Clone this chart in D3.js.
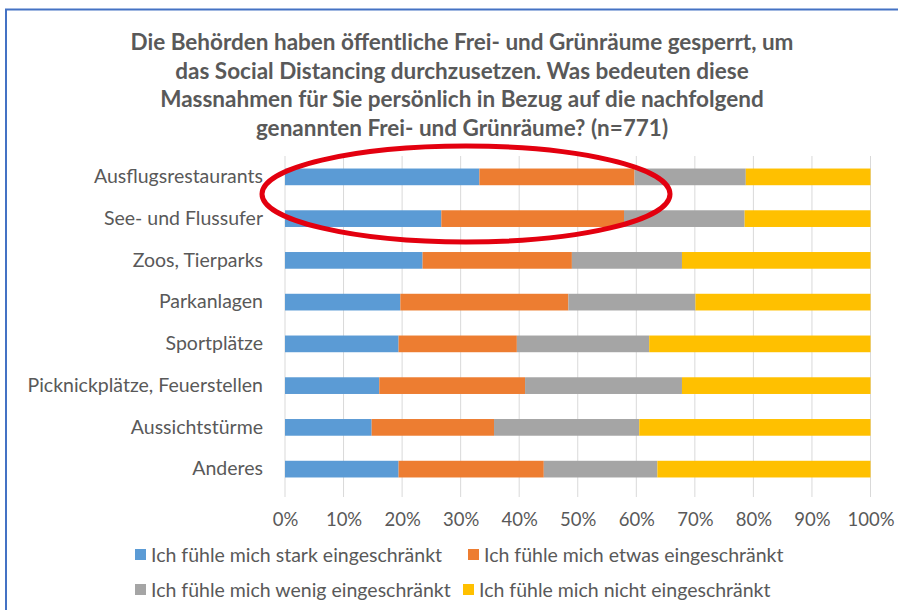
<!DOCTYPE html>
<html>
<head>
<meta charset="utf-8">
<script src="https://cdn.jsdelivr.net/npm/d3@7"></script>
<style>
  body { margin: 0; background: #fff; }
  svg { display: block; }
</style>
</head>
<body>
<div id="chart"></div>
<script>
// values, in percent
const categories = ["Ausflugsrestaurants", "See- und Flussufer", "Zoos, Tierparks", "Parkanlagen",
                    "Sportplätze", "Picknickplätze, Feuerstellen", "Aussichtstürme", "Anderes"];
const stark = [33.2, 26.7, 23.5, 19.7, 19.4, 16.1, 14.8, 19.4];
const etwas = [26.5, 31.2, 25.5, 28.7, 20.2, 24.9, 20.9, 24.8];
const wenig = [19.0, 20.6, 18.8, 21.7, 22.6, 26.8, 24.8, 19.4];
const nicht = [21.3, 21.5, 32.2, 29.9, 37.8, 32.2, 39.5, 36.4];
const seriesNames = ["Ich fühle mich stark eingeschränkt", "Ich fühle mich etwas eingeschränkt",
                     "Ich fühle mich wenig eingeschränkt", "Ich fühle mich nicht eingeschränkt"];
const xTicks = [0, 10, 20, 30, 40, 50, 60, 70, 80, 90, 100];
const titleLines = ["Die Behörden haben öffentliche Frei- und Grünräume gesperrt, um",
                    "das Social Distancing durchzusetzen. Was bedeuten diese",
                    "Massnahmen für Sie persönlich in Bezug auf die nachfolgend",
                    "genannten Frei- und Grünräume? (n=771)"];

const colors = ["#5B9BD5", "#ED7D31", "#A5A5A5", "#FFC000"];
const keys = ["stark", "etwas", "wenig", "nicht"];
const font = "Lato, 'Open Sans', sans-serif";

const width = 898, height = 610;
const margin = { top: 156, right: 27.5, bottom: 120, left: 285 };

const rows = categories.map((c, i) => ({
  cat: c, stark: stark[i], etwas: etwas[i], wenig: wenig[i], nicht: nicht[i]
}));

const svg = d3.select("#chart").append("svg")
  .attr("width", width)
  .attr("height", height);

// frame (only top and left edge visible)
svg.append("path")
  .attr("d", "M6,610 L6,9.5 L898,9.5")
  .attr("fill", "none")
  .attr("stroke", "#4472C4")
  .attr("stroke-width", 2);

const x = d3.scaleLinear().domain([0, 100]).range([margin.left, width - margin.right]);
const y = d3.scaleBand().domain(categories)
  .range([margin.top, height - margin.bottom])
  .paddingInner(0.6).paddingOuter(0.3);

// title
svg.append("text")
  .attr("x", 462)
  .attr("y", 50)
  .attr("text-anchor", "middle")
  .style("font-family", font)
  .style("font-weight", "bold")
  .style("font-size", "22.5px")
  .attr("fill", "#595959")
  .selectAll("tspan")
  .data(titleLines)
  .enter().append("tspan")
    .attr("x", 462)
    .attr("dy", (d, i) => i === 0 ? 0 : 28.5)
    .text(d => d);

// gridlines
svg.append("g")
  .selectAll("line")
  .data(xTicks)
  .enter().append("line")
    .attr("x1", d => x(d)).attr("x2", d => x(d))
    .attr("y1", margin.top).attr("y2", 497)
    .attr("stroke", "#D9D9D9")
    .attr("stroke-width", 1);

// x axis labels
const xAxis = d3.axisBottom(x)
  .tickValues(xTicks)
  .tickFormat(d => d + "%")
  .tickSize(0)
  .tickPadding(0);

const gx = svg.append("g")
  .attr("transform", "translate(0,514)")
  .call(xAxis);
gx.select(".domain").remove();
gx.selectAll("text")
  .style("font-family", font)
  .style("font-size", "18.5px")
  .attr("fill", "#595959")
  .attr("dy", "0.35em")
  .attr("y", 6);

// y axis labels
const yAxis = d3.axisLeft(y).tickSize(0).tickPadding(22);
const gy = svg.append("g")
  .attr("transform", "translate(" + margin.left + ",0)")
  .call(yAxis);
gy.select(".domain").remove();
gy.selectAll("text")
  .style("font-family", font)
  .style("font-size", "19.5px")
  .attr("fill", "#595959");

// stacked bars
const stack = d3.stack().keys(keys);
const layers = stack(rows);

svg.append("g").selectAll("g")
  .data(layers)
  .enter().append("g")
    .attr("fill", (d, i) => colors[i])
  .selectAll("rect")
  .data(d => d)
  .enter().append("rect")
    .attr("x", d => x(d[0]))
    .attr("width", d => x(d[1]) - x(d[0]))
    .attr("y", d => y(d.data.cat))
    .attr("height", y.bandwidth());

// legend, two rows
const legendPos = [[135, 555], [468, 555], [135, 590], [463, 590]];
const legend = svg.append("g").selectAll("g")
  .data(seriesNames)
  .enter().append("g")
    .attr("transform", (d, i) => "translate(" + legendPos[i][0] + "," + legendPos[i][1] + ")");
legend.append("rect")
  .attr("x", 0).attr("y", -6)
  .attr("width", 11).attr("height", 11)
  .attr("fill", (d, i) => colors[i]);
legend.append("text")
  .attr("x", 16)
  .attr("dy", "0.35em")
  .style("font-family", font)
  .style("font-size", "19.5px")
  .attr("fill", "#595959")
  .text(d => d);

// red ellipse drawn on the screenshot
svg.append("ellipse")
  .attr("cx", 466)
  .attr("cy", 194)
  .attr("rx", 204)
  .attr("ry", 48)
  .attr("fill", "none")
  .attr("stroke", "#E3000F")
  .attr("stroke-width", 5);
</script>
</body>
</html>
